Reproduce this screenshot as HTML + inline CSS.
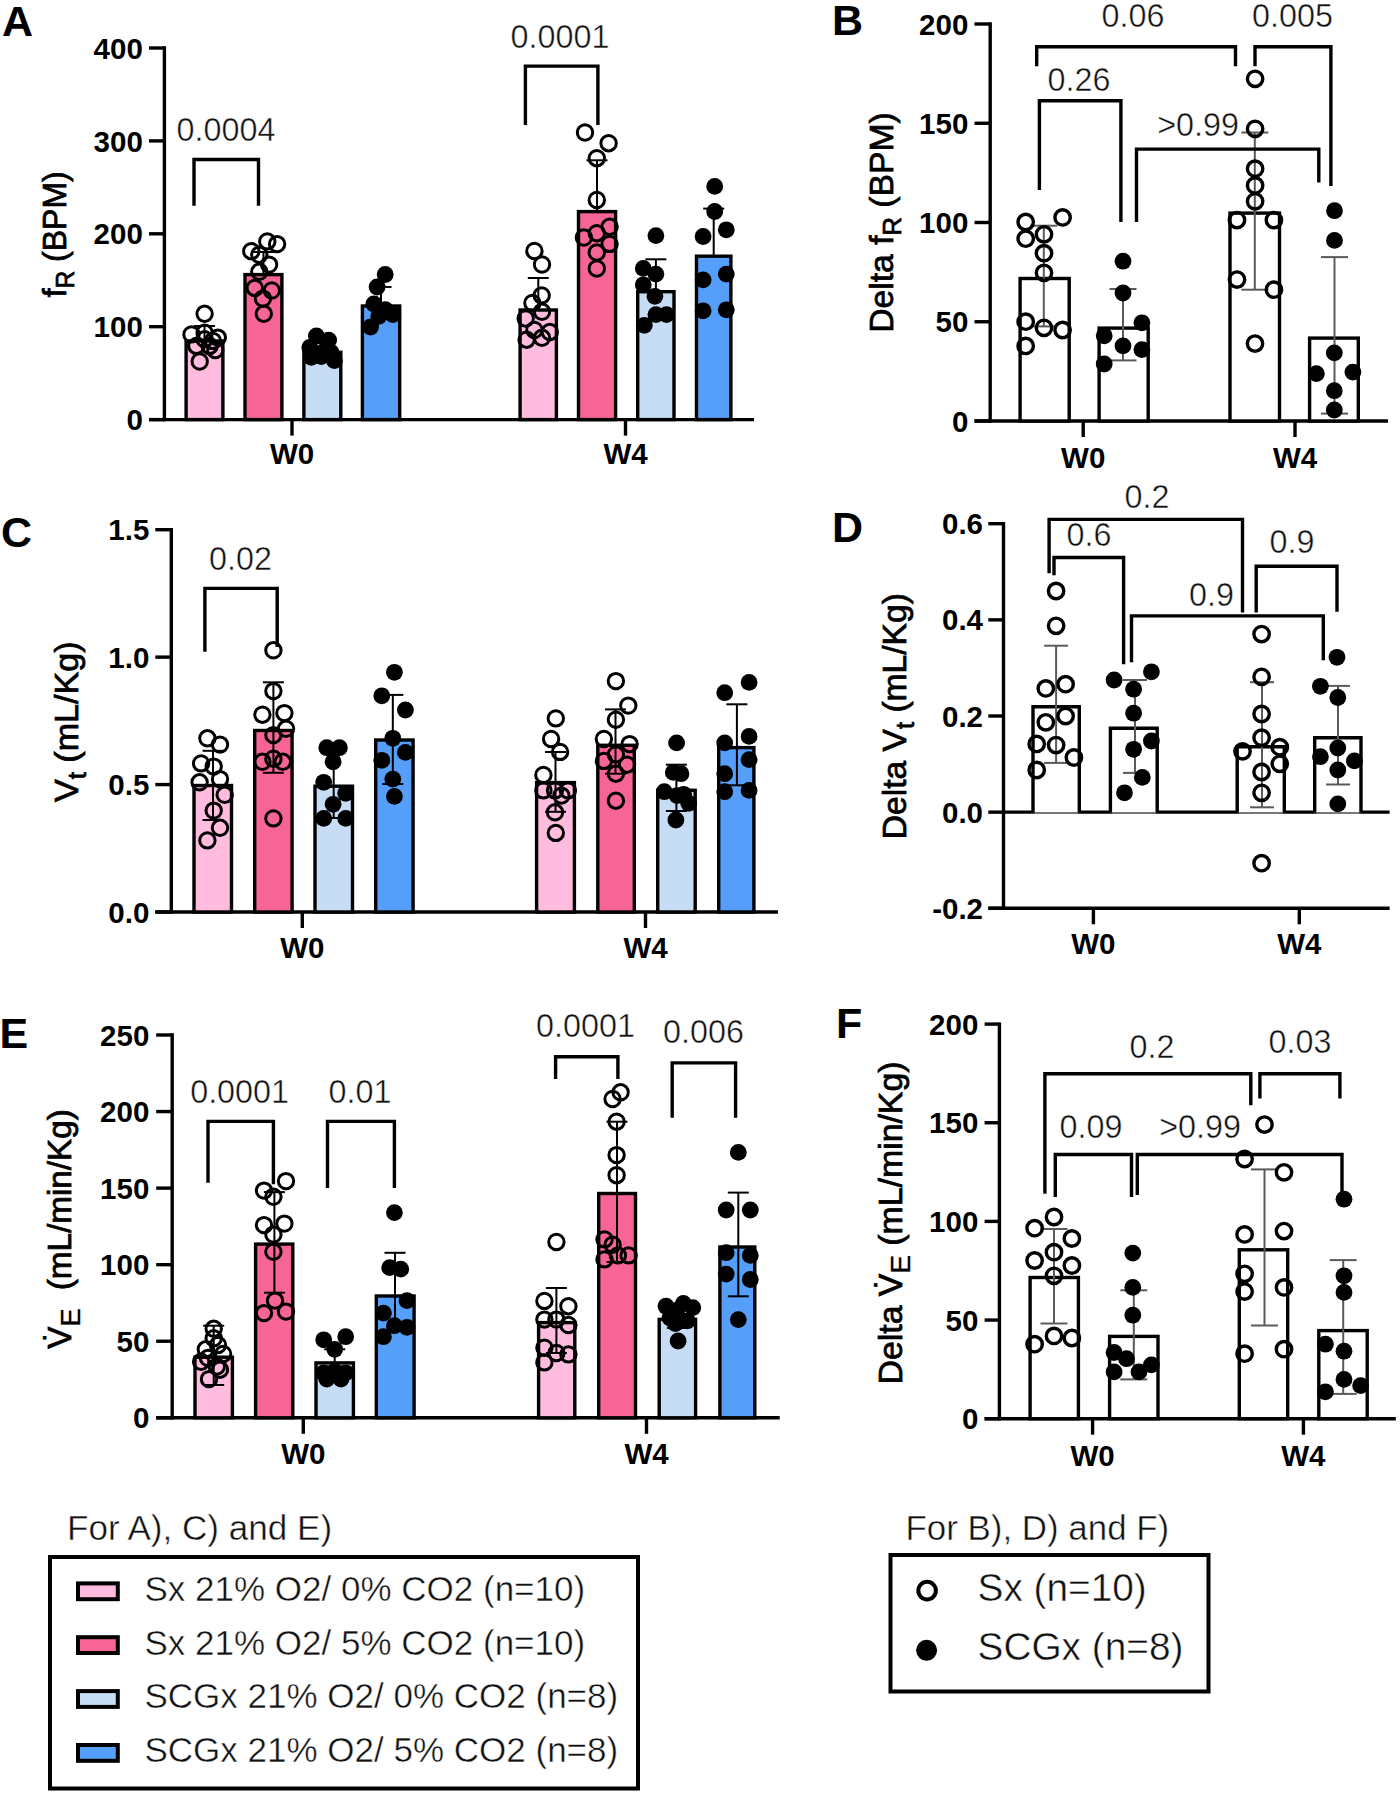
<!DOCTYPE html><html><head><meta charset="utf-8"><style>html,body{margin:0;padding:0;background:#fff;}svg{display:block;}</style></head><body>
<svg width="1400" height="1794" viewBox="0 0 1400 1794" font-family='"Liberation Sans", sans-serif'>
<rect width="1400" height="1794" fill="#fff"/>
<text x="2.00" y="35.50" font-size="43" font-weight="bold" text-anchor="start" fill="#000" >A</text>
<line x1="164.40" y1="46.30" x2="164.40" y2="421.30" stroke="#000" stroke-width="3.4" stroke-linecap="butt"/>
<line x1="149.00" y1="48.00" x2="164.40" y2="48.00" stroke="#000" stroke-width="3.4" stroke-linecap="butt"/>
<text x="142.80" y="58.60" font-size="29.5" font-weight="bold" text-anchor="end" fill="#000" >400</text>
<line x1="149.00" y1="140.90" x2="164.40" y2="140.90" stroke="#000" stroke-width="3.4" stroke-linecap="butt"/>
<text x="142.80" y="151.50" font-size="29.5" font-weight="bold" text-anchor="end" fill="#000" >300</text>
<line x1="149.00" y1="233.80" x2="164.40" y2="233.80" stroke="#000" stroke-width="3.4" stroke-linecap="butt"/>
<text x="142.80" y="244.40" font-size="29.5" font-weight="bold" text-anchor="end" fill="#000" >200</text>
<line x1="149.00" y1="326.70" x2="164.40" y2="326.70" stroke="#000" stroke-width="3.4" stroke-linecap="butt"/>
<text x="142.80" y="337.30" font-size="29.5" font-weight="bold" text-anchor="end" fill="#000" >100</text>
<line x1="149.00" y1="419.60" x2="164.40" y2="419.60" stroke="#000" stroke-width="3.4" stroke-linecap="butt"/>
<text x="142.80" y="430.20" font-size="29.5" font-weight="bold" text-anchor="end" fill="#000" >0</text>
<line x1="149.00" y1="419.60" x2="754.00" y2="419.60" stroke="#000" stroke-width="3.4" stroke-linecap="butt"/>
<line x1="292.00" y1="419.60" x2="292.00" y2="435.60" stroke="#000" stroke-width="3.4" stroke-linecap="butt"/>
<text x="292.00" y="463.60" font-size="29.5" font-weight="bold" text-anchor="middle" fill="#000" >W0</text>
<line x1="625.50" y1="419.60" x2="625.50" y2="435.60" stroke="#000" stroke-width="3.4" stroke-linecap="butt"/>
<text x="625.50" y="463.60" font-size="29.5" font-weight="bold" text-anchor="middle" fill="#000" >W4</text>
<rect x="186.10" y="341.00" width="36.80" height="78.60" fill="#FFBCDF" stroke="#000" stroke-width="3.4"/>
<rect x="245.00" y="274.60" width="36.90" height="145.00" fill="#F76597" stroke="#000" stroke-width="3.4"/>
<rect x="303.90" y="352.30" width="36.90" height="67.30" fill="#C7DDF6" stroke="#000" stroke-width="3.4"/>
<rect x="362.40" y="306.00" width="37.30" height="113.60" fill="#559FFA" stroke="#000" stroke-width="3.4"/>
<rect x="520.10" y="310.00" width="36.30" height="109.60" fill="#FFBCDF" stroke="#000" stroke-width="3.4"/>
<rect x="578.50" y="211.60" width="37.10" height="208.00" fill="#F76597" stroke="#000" stroke-width="3.4"/>
<rect x="637.70" y="291.70" width="36.30" height="127.90" fill="#C7DDF6" stroke="#000" stroke-width="3.4"/>
<rect x="696.50" y="256.20" width="34.40" height="163.40" fill="#559FFA" stroke="#000" stroke-width="3.4"/>
<circle cx="204.6" cy="313.8" r="7.7" fill="none" stroke="#000" stroke-width="3.0"/>
<circle cx="191.5" cy="334.4" r="7.7" fill="none" stroke="#000" stroke-width="3.0"/>
<circle cx="204.6" cy="332.7" r="7.7" fill="none" stroke="#000" stroke-width="3.0"/>
<circle cx="217.8" cy="337.6" r="7.7" fill="none" stroke="#000" stroke-width="3.0"/>
<circle cx="196.4" cy="345.9" r="7.7" fill="none" stroke="#000" stroke-width="3.0"/>
<circle cx="209.6" cy="345.9" r="7.7" fill="none" stroke="#000" stroke-width="3.0"/>
<circle cx="215.3" cy="350.0" r="7.7" fill="none" stroke="#000" stroke-width="3.0"/>
<circle cx="199.7" cy="361.5" r="7.7" fill="none" stroke="#000" stroke-width="3.0"/>
<circle cx="204.6" cy="339.3" r="7.7" fill="none" stroke="#000" stroke-width="3.0"/>
<circle cx="212.9" cy="340.9" r="7.7" fill="none" stroke="#000" stroke-width="3.0"/>
<circle cx="267.3" cy="241.4" r="7.7" fill="none" stroke="#000" stroke-width="3.0"/>
<circle cx="277.1" cy="244.1" r="7.7" fill="none" stroke="#000" stroke-width="3.0"/>
<circle cx="251.3" cy="251.2" r="7.7" fill="none" stroke="#000" stroke-width="3.0"/>
<circle cx="259.3" cy="254.8" r="7.7" fill="none" stroke="#000" stroke-width="3.0"/>
<circle cx="269.1" cy="264.6" r="7.7" fill="none" stroke="#000" stroke-width="3.0"/>
<circle cx="259.3" cy="271.8" r="7.7" fill="none" stroke="#000" stroke-width="3.0"/>
<circle cx="254.8" cy="287.9" r="7.7" fill="none" stroke="#000" stroke-width="3.0"/>
<circle cx="271.8" cy="290.5" r="7.7" fill="none" stroke="#000" stroke-width="3.0"/>
<circle cx="262.9" cy="298.6" r="7.7" fill="none" stroke="#000" stroke-width="3.0"/>
<circle cx="263.8" cy="313.8" r="7.7" fill="none" stroke="#000" stroke-width="3.0"/>
<circle cx="316.4" cy="336.0" r="8.4" fill="#000"/>
<circle cx="328.7" cy="340.1" r="8.4" fill="#000"/>
<circle cx="309.8" cy="347.5" r="8.4" fill="#000"/>
<circle cx="324.6" cy="350.8" r="8.4" fill="#000"/>
<circle cx="311.4" cy="357.4" r="8.4" fill="#000"/>
<circle cx="321.3" cy="356.5" r="8.4" fill="#000"/>
<circle cx="334.4" cy="360.6" r="8.4" fill="#000"/>
<circle cx="331.1" cy="352.4" r="8.4" fill="#000"/>
<circle cx="385.2" cy="274.5" r="8.4" fill="#000"/>
<circle cx="377.1" cy="287.0" r="8.4" fill="#000"/>
<circle cx="373.9" cy="304.0" r="8.4" fill="#000"/>
<circle cx="385.4" cy="309.7" r="8.4" fill="#000"/>
<circle cx="392.8" cy="314.6" r="8.4" fill="#000"/>
<circle cx="370.6" cy="327.0" r="8.4" fill="#000"/>
<circle cx="378.8" cy="316.3" r="8.4" fill="#000"/>
<circle cx="534.4" cy="251.0" r="7.7" fill="none" stroke="#000" stroke-width="3.0"/>
<circle cx="542.0" cy="264.5" r="7.7" fill="none" stroke="#000" stroke-width="3.0"/>
<circle cx="541.7" cy="295.4" r="7.7" fill="none" stroke="#000" stroke-width="3.0"/>
<circle cx="532.4" cy="303.0" r="7.7" fill="none" stroke="#000" stroke-width="3.0"/>
<circle cx="542.0" cy="311.8" r="7.7" fill="none" stroke="#000" stroke-width="3.0"/>
<circle cx="525.7" cy="318.5" r="7.7" fill="none" stroke="#000" stroke-width="3.0"/>
<circle cx="534.4" cy="330.0" r="7.7" fill="none" stroke="#000" stroke-width="3.0"/>
<circle cx="549.8" cy="332.0" r="7.7" fill="none" stroke="#000" stroke-width="3.0"/>
<circle cx="526.6" cy="339.7" r="7.7" fill="none" stroke="#000" stroke-width="3.0"/>
<circle cx="542.0" cy="337.8" r="7.7" fill="none" stroke="#000" stroke-width="3.0"/>
<circle cx="585.0" cy="132.5" r="7.7" fill="none" stroke="#000" stroke-width="3.0"/>
<circle cx="608.6" cy="143.2" r="7.7" fill="none" stroke="#000" stroke-width="3.0"/>
<circle cx="596.8" cy="158.2" r="7.7" fill="none" stroke="#000" stroke-width="3.0"/>
<circle cx="596.8" cy="200.0" r="7.7" fill="none" stroke="#000" stroke-width="3.0"/>
<circle cx="583.9" cy="237.5" r="7.7" fill="none" stroke="#000" stroke-width="3.0"/>
<circle cx="596.8" cy="233.2" r="7.7" fill="none" stroke="#000" stroke-width="3.0"/>
<circle cx="609.6" cy="226.8" r="7.7" fill="none" stroke="#000" stroke-width="3.0"/>
<circle cx="609.6" cy="243.9" r="7.7" fill="none" stroke="#000" stroke-width="3.0"/>
<circle cx="596.8" cy="252.5" r="7.7" fill="none" stroke="#000" stroke-width="3.0"/>
<circle cx="596.8" cy="268.5" r="7.7" fill="none" stroke="#000" stroke-width="3.0"/>
<circle cx="655.9" cy="235.6" r="8.4" fill="#000"/>
<circle cx="643.3" cy="268.4" r="8.4" fill="#000"/>
<circle cx="655.9" cy="274.1" r="8.4" fill="#000"/>
<circle cx="643.3" cy="284.8" r="8.4" fill="#000"/>
<circle cx="654.9" cy="296.3" r="8.4" fill="#000"/>
<circle cx="655.9" cy="314.6" r="8.4" fill="#000"/>
<circle cx="666.5" cy="314.6" r="8.4" fill="#000"/>
<circle cx="644.3" cy="325.3" r="8.4" fill="#000"/>
<circle cx="714.7" cy="186.4" r="8.4" fill="#000"/>
<circle cx="714.7" cy="211.5" r="8.4" fill="#000"/>
<circle cx="703.1" cy="236.5" r="8.4" fill="#000"/>
<circle cx="726.3" cy="229.8" r="8.4" fill="#000"/>
<circle cx="703.1" cy="279.9" r="8.4" fill="#000"/>
<circle cx="726.3" cy="274.1" r="8.4" fill="#000"/>
<circle cx="703.1" cy="310.8" r="8.4" fill="#000"/>
<circle cx="726.3" cy="309.8" r="8.4" fill="#000"/>
<line x1="204.50" y1="326.00" x2="204.50" y2="340.00" stroke="#000" stroke-width="2.0" stroke-linecap="butt"/>
<line x1="194.00" y1="326.00" x2="215.00" y2="326.00" stroke="#000" stroke-width="2.0" stroke-linecap="butt"/>
<line x1="263.50" y1="252.00" x2="263.50" y2="274.00" stroke="#000" stroke-width="2.0" stroke-linecap="butt"/>
<line x1="253.00" y1="252.00" x2="274.00" y2="252.00" stroke="#000" stroke-width="2.0" stroke-linecap="butt"/>
<line x1="322.40" y1="343.00" x2="322.40" y2="351.00" stroke="#000" stroke-width="2.0" stroke-linecap="butt"/>
<line x1="311.90" y1="343.00" x2="332.90" y2="343.00" stroke="#000" stroke-width="2.0" stroke-linecap="butt"/>
<line x1="381.00" y1="287.00" x2="381.00" y2="305.00" stroke="#000" stroke-width="2.0" stroke-linecap="butt"/>
<line x1="370.50" y1="287.00" x2="391.50" y2="287.00" stroke="#000" stroke-width="2.0" stroke-linecap="butt"/>
<line x1="538.30" y1="278.00" x2="538.30" y2="309.00" stroke="#000" stroke-width="2.0" stroke-linecap="butt"/>
<line x1="527.80" y1="278.00" x2="548.80" y2="278.00" stroke="#000" stroke-width="2.0" stroke-linecap="butt"/>
<line x1="597.00" y1="160.30" x2="597.00" y2="211.00" stroke="#000" stroke-width="2.0" stroke-linecap="butt"/>
<line x1="586.50" y1="160.30" x2="607.50" y2="160.30" stroke="#000" stroke-width="2.0" stroke-linecap="butt"/>
<line x1="655.90" y1="259.30" x2="655.90" y2="291.00" stroke="#000" stroke-width="2.0" stroke-linecap="butt"/>
<line x1="645.40" y1="259.30" x2="666.40" y2="259.30" stroke="#000" stroke-width="2.0" stroke-linecap="butt"/>
<line x1="713.70" y1="208.60" x2="713.70" y2="256.00" stroke="#000" stroke-width="2.0" stroke-linecap="butt"/>
<line x1="703.20" y1="208.60" x2="724.20" y2="208.60" stroke="#000" stroke-width="2.0" stroke-linecap="butt"/>
<path d="M194.00,205.70 V159.50 H258.50 V205.70" fill="none" stroke="#000" stroke-width="3.4" stroke-linejoin="miter"/>
<text x="226.00" y="141.20" font-size="32.3" font-weight="normal" text-anchor="middle" fill="#111111" stroke="#fff" stroke-width="0.45">0.0004</text>
<path d="M525.40,125.00 V66.10 H597.90 V125.00" fill="none" stroke="#000" stroke-width="3.4" stroke-linejoin="miter"/>
<text x="560.00" y="47.90" font-size="32.3" font-weight="normal" text-anchor="middle" fill="#111111" stroke="#fff" stroke-width="0.45">0.0001</text>
<text transform="translate(66.40,234.25) rotate(-90)" font-size="33" font-weight="normal" text-anchor="middle" fill="#000" stroke="#000" stroke-width="0.75" textLength="126" lengthAdjust="spacingAndGlyphs">f<tspan font-size="25" dy="8">R</tspan><tspan dy="-8"> (BPM)</tspan></text>
<text x="832.00" y="34.50" font-size="43" font-weight="bold" text-anchor="start" fill="#000" >B</text>
<line x1="990.20" y1="22.30" x2="990.20" y2="422.70" stroke="#000" stroke-width="3.4" stroke-linecap="butt"/>
<line x1="974.50" y1="24.00" x2="990.20" y2="24.00" stroke="#000" stroke-width="3.4" stroke-linecap="butt"/>
<text x="968.30" y="34.60" font-size="29.5" font-weight="bold" text-anchor="end" fill="#000" >200</text>
<line x1="974.50" y1="123.25" x2="990.20" y2="123.25" stroke="#000" stroke-width="3.4" stroke-linecap="butt"/>
<text x="968.30" y="133.85" font-size="29.5" font-weight="bold" text-anchor="end" fill="#000" >150</text>
<line x1="974.50" y1="222.50" x2="990.20" y2="222.50" stroke="#000" stroke-width="3.4" stroke-linecap="butt"/>
<text x="968.30" y="233.10" font-size="29.5" font-weight="bold" text-anchor="end" fill="#000" >100</text>
<line x1="974.50" y1="321.75" x2="990.20" y2="321.75" stroke="#000" stroke-width="3.4" stroke-linecap="butt"/>
<text x="968.30" y="332.35" font-size="29.5" font-weight="bold" text-anchor="end" fill="#000" >50</text>
<line x1="974.50" y1="421.00" x2="990.20" y2="421.00" stroke="#000" stroke-width="3.4" stroke-linecap="butt"/>
<text x="968.30" y="431.60" font-size="29.5" font-weight="bold" text-anchor="end" fill="#000" >0</text>
<line x1="974.50" y1="421.00" x2="1388.00" y2="421.00" stroke="#000" stroke-width="3.4" stroke-linecap="butt"/>
<line x1="1083.20" y1="421.00" x2="1083.20" y2="437.00" stroke="#000" stroke-width="3.4" stroke-linecap="butt"/>
<text x="1083.20" y="468.30" font-size="29.5" font-weight="bold" text-anchor="middle" fill="#000" >W0</text>
<line x1="1295.00" y1="421.00" x2="1295.00" y2="437.00" stroke="#000" stroke-width="3.4" stroke-linecap="butt"/>
<text x="1295.00" y="468.30" font-size="29.5" font-weight="bold" text-anchor="middle" fill="#000" >W4</text>
<rect x="1020.10" y="278.50" width="49.10" height="142.50" fill="#fff" stroke="#000" stroke-width="3.4"/>
<rect x="1099.10" y="328.10" width="49.10" height="92.90" fill="#fff" stroke="#000" stroke-width="3.4"/>
<rect x="1230.00" y="213.10" width="49.50" height="207.90" fill="#fff" stroke="#000" stroke-width="3.4"/>
<rect x="1309.60" y="338.10" width="48.70" height="82.90" fill="#fff" stroke="#000" stroke-width="3.4"/>
<line x1="1043.80" y1="225.70" x2="1043.80" y2="326.40" stroke="#5a5a5a" stroke-width="2.0" stroke-linecap="butt"/>
<line x1="1030.30" y1="225.70" x2="1057.30" y2="225.70" stroke="#5a5a5a" stroke-width="2.0" stroke-linecap="butt"/>
<line x1="1030.30" y1="326.40" x2="1057.30" y2="326.40" stroke="#5a5a5a" stroke-width="2.0" stroke-linecap="butt"/>
<line x1="1123.00" y1="289.00" x2="1123.00" y2="360.40" stroke="#5a5a5a" stroke-width="2.0" stroke-linecap="butt"/>
<line x1="1109.50" y1="289.00" x2="1136.50" y2="289.00" stroke="#5a5a5a" stroke-width="2.0" stroke-linecap="butt"/>
<line x1="1109.50" y1="360.40" x2="1136.50" y2="360.40" stroke="#5a5a5a" stroke-width="2.0" stroke-linecap="butt"/>
<line x1="1254.80" y1="132.50" x2="1254.80" y2="289.70" stroke="#5a5a5a" stroke-width="2.0" stroke-linecap="butt"/>
<line x1="1241.30" y1="132.50" x2="1268.30" y2="132.50" stroke="#5a5a5a" stroke-width="2.0" stroke-linecap="butt"/>
<line x1="1241.30" y1="289.70" x2="1268.30" y2="289.70" stroke="#5a5a5a" stroke-width="2.0" stroke-linecap="butt"/>
<line x1="1334.50" y1="257.10" x2="1334.50" y2="413.60" stroke="#5a5a5a" stroke-width="2.0" stroke-linecap="butt"/>
<line x1="1321.00" y1="257.10" x2="1348.00" y2="257.10" stroke="#5a5a5a" stroke-width="2.0" stroke-linecap="butt"/>
<line x1="1321.00" y1="413.60" x2="1348.00" y2="413.60" stroke="#5a5a5a" stroke-width="2.0" stroke-linecap="butt"/>
<circle cx="1025.7" cy="222.0" r="7.7" fill="none" stroke="#000" stroke-width="3.4"/>
<circle cx="1062.6" cy="217.4" r="7.7" fill="none" stroke="#000" stroke-width="3.4"/>
<circle cx="1025.7" cy="238.7" r="7.7" fill="none" stroke="#000" stroke-width="3.4"/>
<circle cx="1044.0" cy="234.3" r="7.7" fill="none" stroke="#000" stroke-width="3.4"/>
<circle cx="1044.0" cy="253.2" r="7.7" fill="none" stroke="#000" stroke-width="3.4"/>
<circle cx="1044.0" cy="272.8" r="7.7" fill="none" stroke="#000" stroke-width="3.4"/>
<circle cx="1025.7" cy="321.7" r="7.7" fill="none" stroke="#000" stroke-width="3.4"/>
<circle cx="1044.0" cy="327.8" r="7.7" fill="none" stroke="#000" stroke-width="3.4"/>
<circle cx="1062.6" cy="330.0" r="7.7" fill="none" stroke="#000" stroke-width="3.4"/>
<circle cx="1025.7" cy="345.9" r="7.7" fill="none" stroke="#000" stroke-width="3.4"/>
<circle cx="1123.0" cy="261.2" r="8.4" fill="#000"/>
<circle cx="1123.0" cy="293.0" r="8.4" fill="#000"/>
<circle cx="1141.9" cy="322.8" r="8.4" fill="#000"/>
<circle cx="1104.2" cy="335.8" r="8.4" fill="#000"/>
<circle cx="1123.0" cy="345.9" r="8.4" fill="#000"/>
<circle cx="1141.9" cy="349.6" r="8.4" fill="#000"/>
<circle cx="1104.2" cy="364.0" r="8.4" fill="#000"/>
<circle cx="1255.1" cy="78.8" r="7.7" fill="none" stroke="#000" stroke-width="3.4"/>
<circle cx="1255.1" cy="128.8" r="7.7" fill="none" stroke="#000" stroke-width="3.4"/>
<circle cx="1255.1" cy="168.7" r="7.7" fill="none" stroke="#000" stroke-width="3.4"/>
<circle cx="1255.1" cy="185.4" r="7.7" fill="none" stroke="#000" stroke-width="3.4"/>
<circle cx="1255.1" cy="201.3" r="7.7" fill="none" stroke="#000" stroke-width="3.4"/>
<circle cx="1237.0" cy="220.1" r="7.7" fill="none" stroke="#000" stroke-width="3.4"/>
<circle cx="1273.9" cy="220.1" r="7.7" fill="none" stroke="#000" stroke-width="3.4"/>
<circle cx="1237.0" cy="279.6" r="7.7" fill="none" stroke="#000" stroke-width="3.4"/>
<circle cx="1273.9" cy="289.7" r="7.7" fill="none" stroke="#000" stroke-width="3.4"/>
<circle cx="1255.0" cy="343.6" r="7.7" fill="none" stroke="#000" stroke-width="3.4"/>
<circle cx="1334.5" cy="210.7" r="8.4" fill="#000"/>
<circle cx="1334.5" cy="240.4" r="8.4" fill="#000"/>
<circle cx="1334.3" cy="352.9" r="8.4" fill="#000"/>
<circle cx="1316.4" cy="373.6" r="8.4" fill="#000"/>
<circle cx="1352.9" cy="372.1" r="8.4" fill="#000"/>
<circle cx="1334.3" cy="390.7" r="8.4" fill="#000"/>
<circle cx="1334.3" cy="410.0" r="8.4" fill="#000"/>
<path d="M1036.70,66.30 V46.80 H1235.50 V66.30" fill="none" stroke="#000" stroke-width="3.4" stroke-linejoin="miter"/>
<path d="M1255.00,66.30 V46.80 H1330.90 V186.10" fill="none" stroke="#000" stroke-width="3.4" stroke-linejoin="miter"/>
<path d="M1039.40,190.10 V100.70 H1120.90 V222.00" fill="none" stroke="#000" stroke-width="3.4" stroke-linejoin="miter"/>
<path d="M1136.50,222.00 V149.10 H1318.80 V182.50" fill="none" stroke="#000" stroke-width="3.4" stroke-linejoin="miter"/>
<text x="1133.00" y="26.90" font-size="32.3" font-weight="normal" text-anchor="middle" fill="#111111" stroke="#fff" stroke-width="0.45">0.06</text>
<text x="1292.50" y="26.90" font-size="32.3" font-weight="normal" text-anchor="middle" fill="#111111" stroke="#fff" stroke-width="0.45">0.005</text>
<text x="1079.00" y="91.10" font-size="32.3" font-weight="normal" text-anchor="middle" fill="#111111" stroke="#fff" stroke-width="0.45">0.26</text>
<text x="1198.00" y="136.40" font-size="32.3" font-weight="normal" text-anchor="middle" fill="#111111" stroke="#fff" stroke-width="0.45">&gt;0.99</text>
<text transform="translate(892.70,222.55) rotate(-90)" font-size="33" font-weight="normal" text-anchor="middle" fill="#000" stroke="#000" stroke-width="0.75" textLength="220.5" lengthAdjust="spacingAndGlyphs">Delta f<tspan font-size="25" dy="8">R</tspan><tspan dy="-8"> (BPM)</tspan></text>
<text x="1.00" y="546.60" font-size="43" font-weight="bold" text-anchor="start" fill="#000" >C</text>
<line x1="171.30" y1="528.00" x2="171.30" y2="913.70" stroke="#000" stroke-width="3.4" stroke-linecap="butt"/>
<line x1="155.30" y1="529.70" x2="171.30" y2="529.70" stroke="#000" stroke-width="3.4" stroke-linecap="butt"/>
<text x="149.30" y="540.30" font-size="29.5" font-weight="bold" text-anchor="end" fill="#000" >1.5</text>
<line x1="155.30" y1="657.13" x2="171.30" y2="657.13" stroke="#000" stroke-width="3.4" stroke-linecap="butt"/>
<text x="149.30" y="667.73" font-size="29.5" font-weight="bold" text-anchor="end" fill="#000" >1.0</text>
<line x1="155.30" y1="784.57" x2="171.30" y2="784.57" stroke="#000" stroke-width="3.4" stroke-linecap="butt"/>
<text x="149.30" y="795.17" font-size="29.5" font-weight="bold" text-anchor="end" fill="#000" >0.5</text>
<line x1="155.30" y1="912.00" x2="171.30" y2="912.00" stroke="#000" stroke-width="3.4" stroke-linecap="butt"/>
<text x="149.30" y="922.60" font-size="29.5" font-weight="bold" text-anchor="end" fill="#000" >0.0</text>
<line x1="155.30" y1="912.00" x2="777.90" y2="912.00" stroke="#000" stroke-width="3.4" stroke-linecap="butt"/>
<line x1="302.30" y1="912.00" x2="302.30" y2="928.00" stroke="#000" stroke-width="3.4" stroke-linecap="butt"/>
<text x="302.30" y="958.30" font-size="29.5" font-weight="bold" text-anchor="middle" fill="#000" >W0</text>
<line x1="645.50" y1="912.00" x2="645.50" y2="928.00" stroke="#000" stroke-width="3.4" stroke-linecap="butt"/>
<text x="645.50" y="958.30" font-size="29.5" font-weight="bold" text-anchor="middle" fill="#000" >W4</text>
<rect x="194.00" y="785.50" width="37.50" height="126.50" fill="#FFBCDF" stroke="#000" stroke-width="3.4"/>
<rect x="254.70" y="730.50" width="37.40" height="181.50" fill="#F76597" stroke="#000" stroke-width="3.4"/>
<rect x="315.00" y="786.20" width="37.50" height="125.80" fill="#C7DDF6" stroke="#000" stroke-width="3.4"/>
<rect x="375.70" y="740.00" width="37.40" height="172.00" fill="#559FFA" stroke="#000" stroke-width="3.4"/>
<rect x="536.60" y="782.60" width="37.80" height="129.40" fill="#FFBCDF" stroke="#000" stroke-width="3.4"/>
<rect x="597.80" y="745.30" width="36.50" height="166.70" fill="#F76597" stroke="#000" stroke-width="3.4"/>
<rect x="657.70" y="790.30" width="37.50" height="121.70" fill="#C7DDF6" stroke="#000" stroke-width="3.4"/>
<rect x="718.70" y="747.60" width="35.20" height="164.40" fill="#559FFA" stroke="#000" stroke-width="3.4"/>
<circle cx="207.4" cy="738.3" r="7.7" fill="none" stroke="#000" stroke-width="3.0"/>
<circle cx="220.0" cy="744.6" r="7.7" fill="none" stroke="#000" stroke-width="3.0"/>
<circle cx="201.1" cy="763.4" r="7.7" fill="none" stroke="#000" stroke-width="3.0"/>
<circle cx="213.7" cy="766.6" r="7.7" fill="none" stroke="#000" stroke-width="3.0"/>
<circle cx="220.0" cy="779.1" r="7.7" fill="none" stroke="#000" stroke-width="3.0"/>
<circle cx="199.6" cy="782.3" r="7.7" fill="none" stroke="#000" stroke-width="3.0"/>
<circle cx="224.7" cy="794.8" r="7.7" fill="none" stroke="#000" stroke-width="3.0"/>
<circle cx="213.7" cy="810.6" r="7.7" fill="none" stroke="#000" stroke-width="3.0"/>
<circle cx="220.0" cy="827.8" r="7.7" fill="none" stroke="#000" stroke-width="3.0"/>
<circle cx="207.4" cy="840.4" r="7.7" fill="none" stroke="#000" stroke-width="3.0"/>
<circle cx="273.4" cy="650.3" r="7.7" fill="none" stroke="#000" stroke-width="3.0"/>
<circle cx="273.4" cy="691.1" r="7.7" fill="none" stroke="#000" stroke-width="3.0"/>
<circle cx="262.4" cy="714.7" r="7.7" fill="none" stroke="#000" stroke-width="3.0"/>
<circle cx="284.4" cy="713.1" r="7.7" fill="none" stroke="#000" stroke-width="3.0"/>
<circle cx="286.0" cy="728.8" r="7.7" fill="none" stroke="#000" stroke-width="3.0"/>
<circle cx="273.4" cy="735.1" r="7.7" fill="none" stroke="#000" stroke-width="3.0"/>
<circle cx="262.4" cy="761.8" r="7.7" fill="none" stroke="#000" stroke-width="3.0"/>
<circle cx="282.8" cy="761.8" r="7.7" fill="none" stroke="#000" stroke-width="3.0"/>
<circle cx="273.4" cy="758.7" r="7.7" fill="none" stroke="#000" stroke-width="3.0"/>
<circle cx="273.4" cy="818.4" r="7.7" fill="none" stroke="#000" stroke-width="3.0"/>
<circle cx="326.8" cy="747.7" r="8.4" fill="#000"/>
<circle cx="339.4" cy="747.7" r="8.4" fill="#000"/>
<circle cx="333.1" cy="761.8" r="8.4" fill="#000"/>
<circle cx="323.7" cy="782.3" r="8.4" fill="#000"/>
<circle cx="345.7" cy="793.3" r="8.4" fill="#000"/>
<circle cx="333.1" cy="804.3" r="8.4" fill="#000"/>
<circle cx="323.7" cy="818.4" r="8.4" fill="#000"/>
<circle cx="345.7" cy="818.4" r="8.4" fill="#000"/>
<circle cx="394.4" cy="672.3" r="8.4" fill="#000"/>
<circle cx="381.8" cy="695.8" r="8.4" fill="#000"/>
<circle cx="405.4" cy="710.0" r="8.4" fill="#000"/>
<circle cx="392.8" cy="738.3" r="8.4" fill="#000"/>
<circle cx="381.8" cy="760.3" r="8.4" fill="#000"/>
<circle cx="405.4" cy="752.4" r="8.4" fill="#000"/>
<circle cx="392.8" cy="779.1" r="8.4" fill="#000"/>
<circle cx="394.4" cy="796.4" r="8.4" fill="#000"/>
<circle cx="555.8" cy="718.4" r="7.7" fill="none" stroke="#000" stroke-width="3.0"/>
<circle cx="551.1" cy="739.0" r="7.7" fill="none" stroke="#000" stroke-width="3.0"/>
<circle cx="560.1" cy="751.9" r="7.7" fill="none" stroke="#000" stroke-width="3.0"/>
<circle cx="543.4" cy="775.0" r="7.7" fill="none" stroke="#000" stroke-width="3.0"/>
<circle cx="543.4" cy="790.4" r="7.7" fill="none" stroke="#000" stroke-width="3.0"/>
<circle cx="555.0" cy="790.4" r="7.7" fill="none" stroke="#000" stroke-width="3.0"/>
<circle cx="567.9" cy="790.4" r="7.7" fill="none" stroke="#000" stroke-width="3.0"/>
<circle cx="561.4" cy="795.6" r="7.7" fill="none" stroke="#000" stroke-width="3.0"/>
<circle cx="555.0" cy="812.3" r="7.7" fill="none" stroke="#000" stroke-width="3.0"/>
<circle cx="555.8" cy="832.9" r="7.7" fill="none" stroke="#000" stroke-width="3.0"/>
<circle cx="615.9" cy="681.1" r="7.7" fill="none" stroke="#000" stroke-width="3.0"/>
<circle cx="628.3" cy="705.6" r="7.7" fill="none" stroke="#000" stroke-width="3.0"/>
<circle cx="615.9" cy="719.7" r="7.7" fill="none" stroke="#000" stroke-width="3.0"/>
<circle cx="603.9" cy="739.0" r="7.7" fill="none" stroke="#000" stroke-width="3.0"/>
<circle cx="629.6" cy="744.1" r="7.7" fill="none" stroke="#000" stroke-width="3.0"/>
<circle cx="615.9" cy="754.4" r="7.7" fill="none" stroke="#000" stroke-width="3.0"/>
<circle cx="603.9" cy="760.9" r="7.7" fill="none" stroke="#000" stroke-width="3.0"/>
<circle cx="627.0" cy="764.7" r="7.7" fill="none" stroke="#000" stroke-width="3.0"/>
<circle cx="615.9" cy="773.7" r="7.7" fill="none" stroke="#000" stroke-width="3.0"/>
<circle cx="615.9" cy="800.7" r="7.7" fill="none" stroke="#000" stroke-width="3.0"/>
<circle cx="676.6" cy="742.9" r="8.4" fill="#000"/>
<circle cx="673.3" cy="772.4" r="8.4" fill="#000"/>
<circle cx="681.0" cy="773.7" r="8.4" fill="#000"/>
<circle cx="664.3" cy="791.7" r="8.4" fill="#000"/>
<circle cx="677.1" cy="795.6" r="8.4" fill="#000"/>
<circle cx="688.7" cy="803.3" r="8.4" fill="#000"/>
<circle cx="675.9" cy="820.0" r="8.4" fill="#000"/>
<circle cx="683.6" cy="794.3" r="8.4" fill="#000"/>
<circle cx="724.7" cy="692.7" r="8.4" fill="#000"/>
<circle cx="749.1" cy="682.4" r="8.4" fill="#000"/>
<circle cx="724.7" cy="742.9" r="8.4" fill="#000"/>
<circle cx="749.1" cy="736.4" r="8.4" fill="#000"/>
<circle cx="749.1" cy="759.6" r="8.4" fill="#000"/>
<circle cx="724.7" cy="773.7" r="8.4" fill="#000"/>
<circle cx="724.7" cy="791.7" r="8.4" fill="#000"/>
<circle cx="749.1" cy="790.4" r="8.4" fill="#000"/>
<line x1="213.00" y1="750.80" x2="213.00" y2="820.00" stroke="#000" stroke-width="2.0" stroke-linecap="butt"/>
<line x1="202.50" y1="750.80" x2="223.50" y2="750.80" stroke="#000" stroke-width="2.0" stroke-linecap="butt"/>
<line x1="202.50" y1="820.00" x2="223.50" y2="820.00" stroke="#000" stroke-width="2.0" stroke-linecap="butt"/>
<line x1="273.40" y1="682.30" x2="273.40" y2="772.80" stroke="#000" stroke-width="2.0" stroke-linecap="butt"/>
<line x1="262.90" y1="682.30" x2="283.90" y2="682.30" stroke="#000" stroke-width="2.0" stroke-linecap="butt"/>
<line x1="262.90" y1="772.80" x2="283.90" y2="772.80" stroke="#000" stroke-width="2.0" stroke-linecap="butt"/>
<line x1="333.70" y1="752.00" x2="333.70" y2="818.00" stroke="#000" stroke-width="2.0" stroke-linecap="butt"/>
<line x1="323.20" y1="752.00" x2="344.20" y2="752.00" stroke="#000" stroke-width="2.0" stroke-linecap="butt"/>
<line x1="323.20" y1="818.00" x2="344.20" y2="818.00" stroke="#000" stroke-width="2.0" stroke-linecap="butt"/>
<line x1="392.80" y1="694.90" x2="392.80" y2="784.00" stroke="#000" stroke-width="2.0" stroke-linecap="butt"/>
<line x1="382.30" y1="694.90" x2="403.30" y2="694.90" stroke="#000" stroke-width="2.0" stroke-linecap="butt"/>
<line x1="382.30" y1="784.00" x2="403.30" y2="784.00" stroke="#000" stroke-width="2.0" stroke-linecap="butt"/>
<line x1="555.50" y1="752.00" x2="555.50" y2="811.80" stroke="#000" stroke-width="2.0" stroke-linecap="butt"/>
<line x1="545.00" y1="752.00" x2="566.00" y2="752.00" stroke="#000" stroke-width="2.0" stroke-linecap="butt"/>
<line x1="545.00" y1="811.80" x2="566.00" y2="811.80" stroke="#000" stroke-width="2.0" stroke-linecap="butt"/>
<line x1="615.50" y1="709.40" x2="615.50" y2="773.70" stroke="#000" stroke-width="2.0" stroke-linecap="butt"/>
<line x1="605.00" y1="709.40" x2="626.00" y2="709.40" stroke="#000" stroke-width="2.0" stroke-linecap="butt"/>
<line x1="605.00" y1="773.70" x2="626.00" y2="773.70" stroke="#000" stroke-width="2.0" stroke-linecap="butt"/>
<line x1="676.40" y1="764.70" x2="676.40" y2="811.00" stroke="#000" stroke-width="2.0" stroke-linecap="butt"/>
<line x1="665.90" y1="764.70" x2="686.90" y2="764.70" stroke="#000" stroke-width="2.0" stroke-linecap="butt"/>
<line x1="665.90" y1="811.00" x2="686.90" y2="811.00" stroke="#000" stroke-width="2.0" stroke-linecap="butt"/>
<line x1="736.90" y1="704.30" x2="736.90" y2="785.30" stroke="#000" stroke-width="2.0" stroke-linecap="butt"/>
<line x1="726.40" y1="704.30" x2="747.40" y2="704.30" stroke="#000" stroke-width="2.0" stroke-linecap="butt"/>
<line x1="726.40" y1="785.30" x2="747.40" y2="785.30" stroke="#000" stroke-width="2.0" stroke-linecap="butt"/>
<path d="M204.90,651.80 V588.40 H277.20 V647.10" fill="none" stroke="#000" stroke-width="3.4" stroke-linejoin="miter"/>
<text x="240.50" y="570.10" font-size="32.3" font-weight="normal" text-anchor="middle" fill="#111111" stroke="#fff" stroke-width="0.45">0.02</text>
<text transform="translate(78.40,721.75) rotate(-90)" font-size="33" font-weight="normal" text-anchor="middle" fill="#000" stroke="#000" stroke-width="0.75" textLength="160.5" lengthAdjust="spacingAndGlyphs">V<tspan font-size="25" dy="8">t</tspan><tspan dy="-8"> (mL/Kg)</tspan></text>
<text x="832.00" y="542.10" font-size="43" font-weight="bold" text-anchor="start" fill="#000" >D</text>
<line x1="1003.50" y1="522.00" x2="1003.50" y2="910.00" stroke="#000" stroke-width="3.4" stroke-linecap="butt"/>
<line x1="988.30" y1="523.70" x2="1003.50" y2="523.70" stroke="#000" stroke-width="3.4" stroke-linecap="butt"/>
<text x="983.00" y="534.30" font-size="29.5" font-weight="bold" text-anchor="end" fill="#000" >0.6</text>
<line x1="988.30" y1="619.85" x2="1003.50" y2="619.85" stroke="#000" stroke-width="3.4" stroke-linecap="butt"/>
<text x="983.00" y="630.45" font-size="29.5" font-weight="bold" text-anchor="end" fill="#000" >0.4</text>
<line x1="988.30" y1="716.00" x2="1003.50" y2="716.00" stroke="#000" stroke-width="3.4" stroke-linecap="butt"/>
<text x="983.00" y="726.60" font-size="29.5" font-weight="bold" text-anchor="end" fill="#000" >0.2</text>
<line x1="988.30" y1="812.15" x2="1003.50" y2="812.15" stroke="#000" stroke-width="3.4" stroke-linecap="butt"/>
<text x="983.00" y="822.75" font-size="29.5" font-weight="bold" text-anchor="end" fill="#000" >0.0</text>
<line x1="988.30" y1="908.30" x2="1003.50" y2="908.30" stroke="#000" stroke-width="3.4" stroke-linecap="butt"/>
<text x="983.00" y="918.90" font-size="29.5" font-weight="bold" text-anchor="end" fill="#000" >-0.2</text>
<line x1="988.30" y1="908.30" x2="1389.60" y2="908.30" stroke="#000" stroke-width="3.4" stroke-linecap="butt"/>
<line x1="1093.40" y1="908.30" x2="1093.40" y2="924.30" stroke="#000" stroke-width="3.4" stroke-linecap="butt"/>
<text x="1093.40" y="954.30" font-size="29.5" font-weight="bold" text-anchor="middle" fill="#000" >W0</text>
<line x1="1299.30" y1="908.30" x2="1299.30" y2="924.30" stroke="#000" stroke-width="3.4" stroke-linecap="butt"/>
<text x="1299.30" y="954.30" font-size="29.5" font-weight="bold" text-anchor="middle" fill="#000" >W4</text>
<line x1="1003.50" y1="812.15" x2="1389.60" y2="812.15" stroke="#000" stroke-width="3.2" stroke-linecap="butt"/>
<path d="M1033.00,812.15 V706.70 H1079.30 V812.15" fill="#fff" stroke="#000" stroke-width="3.4"/>
<line x1="1034.70" y1="813.05" x2="1077.60" y2="813.05" stroke="#8a8a8a" stroke-width="1.5" stroke-linecap="butt"/>
<path d="M1110.40,812.15 V728.20 H1157.20 V812.15" fill="#fff" stroke="#000" stroke-width="3.4"/>
<line x1="1112.10" y1="813.05" x2="1155.50" y2="813.05" stroke="#8a8a8a" stroke-width="1.5" stroke-linecap="butt"/>
<path d="M1237.20,812.15 V746.80 H1284.30 V812.15" fill="#fff" stroke="#000" stroke-width="3.4"/>
<line x1="1238.90" y1="813.05" x2="1282.60" y2="813.05" stroke="#8a8a8a" stroke-width="1.5" stroke-linecap="butt"/>
<path d="M1314.70,812.15 V737.70 H1361.00 V812.15" fill="#fff" stroke="#000" stroke-width="3.4"/>
<line x1="1316.40" y1="813.05" x2="1359.30" y2="813.05" stroke="#8a8a8a" stroke-width="1.5" stroke-linecap="butt"/>
<line x1="1056.10" y1="645.70" x2="1056.10" y2="762.90" stroke="#5a5a5a" stroke-width="2.0" stroke-linecap="butt"/>
<line x1="1044.10" y1="645.70" x2="1068.10" y2="645.70" stroke="#5a5a5a" stroke-width="2.0" stroke-linecap="butt"/>
<line x1="1044.10" y1="762.90" x2="1068.10" y2="762.90" stroke="#5a5a5a" stroke-width="2.0" stroke-linecap="butt"/>
<line x1="1135.00" y1="680.00" x2="1135.00" y2="772.90" stroke="#5a5a5a" stroke-width="2.0" stroke-linecap="butt"/>
<line x1="1123.00" y1="680.00" x2="1147.00" y2="680.00" stroke="#5a5a5a" stroke-width="2.0" stroke-linecap="butt"/>
<line x1="1123.00" y1="772.90" x2="1147.00" y2="772.90" stroke="#5a5a5a" stroke-width="2.0" stroke-linecap="butt"/>
<line x1="1262.00" y1="682.20" x2="1262.00" y2="807.30" stroke="#5a5a5a" stroke-width="2.0" stroke-linecap="butt"/>
<line x1="1250.00" y1="682.20" x2="1274.00" y2="682.20" stroke="#5a5a5a" stroke-width="2.0" stroke-linecap="butt"/>
<line x1="1250.00" y1="807.30" x2="1274.00" y2="807.30" stroke="#5a5a5a" stroke-width="2.0" stroke-linecap="butt"/>
<line x1="1338.00" y1="685.90" x2="1338.00" y2="784.50" stroke="#5a5a5a" stroke-width="2.0" stroke-linecap="butt"/>
<line x1="1326.00" y1="685.90" x2="1350.00" y2="685.90" stroke="#5a5a5a" stroke-width="2.0" stroke-linecap="butt"/>
<line x1="1326.00" y1="784.50" x2="1350.00" y2="784.50" stroke="#5a5a5a" stroke-width="2.0" stroke-linecap="butt"/>
<circle cx="1056.1" cy="591.0" r="7.7" fill="none" stroke="#000" stroke-width="3.4"/>
<circle cx="1056.1" cy="625.8" r="7.7" fill="none" stroke="#000" stroke-width="3.4"/>
<circle cx="1045.8" cy="688.4" r="7.7" fill="none" stroke="#000" stroke-width="3.4"/>
<circle cx="1065.6" cy="684.2" r="7.7" fill="none" stroke="#000" stroke-width="3.4"/>
<circle cx="1045.8" cy="722.3" r="7.7" fill="none" stroke="#000" stroke-width="3.4"/>
<circle cx="1065.6" cy="716.1" r="7.7" fill="none" stroke="#000" stroke-width="3.4"/>
<circle cx="1036.7" cy="743.9" r="7.7" fill="none" stroke="#000" stroke-width="3.4"/>
<circle cx="1056.1" cy="745.1" r="7.7" fill="none" stroke="#000" stroke-width="3.4"/>
<circle cx="1073.9" cy="757.5" r="7.7" fill="none" stroke="#000" stroke-width="3.4"/>
<circle cx="1036.7" cy="770.0" r="7.7" fill="none" stroke="#000" stroke-width="3.4"/>
<circle cx="1114.1" cy="680.0" r="8.4" fill="#000"/>
<circle cx="1151.4" cy="671.8" r="8.4" fill="#000"/>
<circle cx="1133.6" cy="689.2" r="8.4" fill="#000"/>
<circle cx="1133.6" cy="713.2" r="8.4" fill="#000"/>
<circle cx="1151.4" cy="741.0" r="8.4" fill="#000"/>
<circle cx="1133.6" cy="749.3" r="8.4" fill="#000"/>
<circle cx="1142.3" cy="777.4" r="8.4" fill="#000"/>
<circle cx="1124.5" cy="792.8" r="8.4" fill="#000"/>
<circle cx="1261.6" cy="634.1" r="7.7" fill="none" stroke="#000" stroke-width="3.4"/>
<circle cx="1261.6" cy="676.8" r="7.7" fill="none" stroke="#000" stroke-width="3.4"/>
<circle cx="1261.6" cy="714.0" r="7.7" fill="none" stroke="#000" stroke-width="3.4"/>
<circle cx="1261.6" cy="737.7" r="7.7" fill="none" stroke="#000" stroke-width="3.4"/>
<circle cx="1242.5" cy="751.3" r="7.7" fill="none" stroke="#000" stroke-width="3.4"/>
<circle cx="1279.8" cy="747.2" r="7.7" fill="none" stroke="#000" stroke-width="3.4"/>
<circle cx="1279.8" cy="763.8" r="7.7" fill="none" stroke="#000" stroke-width="3.4"/>
<circle cx="1261.6" cy="772.0" r="7.7" fill="none" stroke="#000" stroke-width="3.4"/>
<circle cx="1261.6" cy="792.8" r="7.7" fill="none" stroke="#000" stroke-width="3.4"/>
<circle cx="1261.6" cy="863.2" r="7.7" fill="none" stroke="#000" stroke-width="3.4"/>
<circle cx="1337.0" cy="657.3" r="8.4" fill="#000"/>
<circle cx="1320.4" cy="686.3" r="8.4" fill="#000"/>
<circle cx="1337.8" cy="697.5" r="8.4" fill="#000"/>
<circle cx="1337.8" cy="748.0" r="8.4" fill="#000"/>
<circle cx="1320.4" cy="756.7" r="8.4" fill="#000"/>
<circle cx="1354.4" cy="760.9" r="8.4" fill="#000"/>
<circle cx="1337.8" cy="770.0" r="8.4" fill="#000"/>
<circle cx="1337.8" cy="803.9" r="8.4" fill="#000"/>
<path d="M1049.10,573.20 V519.40 H1242.50 V612.60" fill="none" stroke="#000" stroke-width="3.4" stroke-linejoin="miter"/>
<path d="M1054.00,575.30 V557.50 H1123.60 V664.30" fill="none" stroke="#000" stroke-width="3.4" stroke-linejoin="miter"/>
<path d="M1131.50,662.30 V615.90 H1323.30 V660.20" fill="none" stroke="#000" stroke-width="3.4" stroke-linejoin="miter"/>
<path d="M1256.20,612.60 V566.20 H1337.00 V611.70" fill="none" stroke="#000" stroke-width="3.4" stroke-linejoin="miter"/>
<text x="1147.00" y="508.20" font-size="32.3" font-weight="normal" text-anchor="middle" fill="#111111" stroke="#fff" stroke-width="0.45">0.2</text>
<text x="1089.00" y="545.50" font-size="32.3" font-weight="normal" text-anchor="middle" fill="#111111" stroke="#fff" stroke-width="0.45">0.6</text>
<text x="1211.50" y="606.30" font-size="32.3" font-weight="normal" text-anchor="middle" fill="#111111" stroke="#fff" stroke-width="0.45">0.9</text>
<text x="1292.00" y="552.50" font-size="32.3" font-weight="normal" text-anchor="middle" fill="#111111" stroke="#fff" stroke-width="0.45">0.9</text>
<text transform="translate(906.30,716.15) rotate(-90)" font-size="33" font-weight="normal" text-anchor="middle" fill="#000" stroke="#000" stroke-width="0.75" textLength="246" lengthAdjust="spacingAndGlyphs">Delta V<tspan font-size="25" dy="8">t</tspan><tspan dy="-8"> (mL/Kg)</tspan></text>
<text x="-0.50" y="1047.60" font-size="43" font-weight="bold" text-anchor="start" fill="#000" >E</text>
<line x1="172.20" y1="1033.30" x2="172.20" y2="1419.50" stroke="#000" stroke-width="3.4" stroke-linecap="butt"/>
<line x1="156.20" y1="1035.00" x2="172.20" y2="1035.00" stroke="#000" stroke-width="3.4" stroke-linecap="butt"/>
<text x="149.30" y="1045.60" font-size="29.5" font-weight="bold" text-anchor="end" fill="#000" >250</text>
<line x1="156.20" y1="1111.56" x2="172.20" y2="1111.56" stroke="#000" stroke-width="3.4" stroke-linecap="butt"/>
<text x="149.30" y="1122.16" font-size="29.5" font-weight="bold" text-anchor="end" fill="#000" >200</text>
<line x1="156.20" y1="1188.12" x2="172.20" y2="1188.12" stroke="#000" stroke-width="3.4" stroke-linecap="butt"/>
<text x="149.30" y="1198.72" font-size="29.5" font-weight="bold" text-anchor="end" fill="#000" >150</text>
<line x1="156.20" y1="1264.68" x2="172.20" y2="1264.68" stroke="#000" stroke-width="3.4" stroke-linecap="butt"/>
<text x="149.30" y="1275.28" font-size="29.5" font-weight="bold" text-anchor="end" fill="#000" >100</text>
<line x1="156.20" y1="1341.24" x2="172.20" y2="1341.24" stroke="#000" stroke-width="3.4" stroke-linecap="butt"/>
<text x="149.30" y="1351.84" font-size="29.5" font-weight="bold" text-anchor="end" fill="#000" >50</text>
<line x1="156.20" y1="1417.80" x2="172.20" y2="1417.80" stroke="#000" stroke-width="3.4" stroke-linecap="butt"/>
<text x="149.30" y="1428.40" font-size="29.5" font-weight="bold" text-anchor="end" fill="#000" >0</text>
<line x1="156.20" y1="1417.80" x2="779.70" y2="1417.80" stroke="#000" stroke-width="3.4" stroke-linecap="butt"/>
<line x1="303.30" y1="1417.80" x2="303.30" y2="1433.80" stroke="#000" stroke-width="3.4" stroke-linecap="butt"/>
<text x="303.30" y="1464.00" font-size="29.5" font-weight="bold" text-anchor="middle" fill="#000" >W0</text>
<line x1="646.50" y1="1417.80" x2="646.50" y2="1433.80" stroke="#000" stroke-width="3.4" stroke-linecap="butt"/>
<text x="646.50" y="1464.00" font-size="29.5" font-weight="bold" text-anchor="middle" fill="#000" >W4</text>
<rect x="195.00" y="1357.20" width="37.40" height="60.60" fill="#FFBCDF" stroke="#000" stroke-width="3.4"/>
<rect x="255.60" y="1244.10" width="37.20" height="173.70" fill="#F76597" stroke="#000" stroke-width="3.4"/>
<rect x="316.00" y="1362.90" width="37.40" height="54.90" fill="#C7DDF6" stroke="#000" stroke-width="3.4"/>
<rect x="376.30" y="1296.00" width="37.80" height="121.80" fill="#559FFA" stroke="#000" stroke-width="3.4"/>
<rect x="538.60" y="1322.60" width="36.20" height="95.20" fill="#FFBCDF" stroke="#000" stroke-width="3.4"/>
<rect x="598.70" y="1193.50" width="36.80" height="224.30" fill="#F76597" stroke="#000" stroke-width="3.4"/>
<rect x="659.20" y="1319.40" width="36.40" height="98.40" fill="#C7DDF6" stroke="#000" stroke-width="3.4"/>
<rect x="719.90" y="1247.00" width="34.90" height="170.80" fill="#559FFA" stroke="#000" stroke-width="3.4"/>
<circle cx="213.7" cy="1328.8" r="7.7" fill="none" stroke="#000" stroke-width="3.0"/>
<circle cx="213.7" cy="1338.3" r="7.7" fill="none" stroke="#000" stroke-width="3.0"/>
<circle cx="205.8" cy="1349.3" r="7.7" fill="none" stroke="#000" stroke-width="3.0"/>
<circle cx="223.1" cy="1354.0" r="7.7" fill="none" stroke="#000" stroke-width="3.0"/>
<circle cx="201.1" cy="1361.8" r="7.7" fill="none" stroke="#000" stroke-width="3.0"/>
<circle cx="216.8" cy="1366.6" r="7.7" fill="none" stroke="#000" stroke-width="3.0"/>
<circle cx="209.0" cy="1379.1" r="7.7" fill="none" stroke="#000" stroke-width="3.0"/>
<circle cx="220.0" cy="1369.7" r="7.7" fill="none" stroke="#000" stroke-width="3.0"/>
<circle cx="208.0" cy="1358.0" r="7.7" fill="none" stroke="#000" stroke-width="3.0"/>
<circle cx="218.0" cy="1345.0" r="7.7" fill="none" stroke="#000" stroke-width="3.0"/>
<circle cx="286.0" cy="1181.1" r="7.7" fill="none" stroke="#000" stroke-width="3.0"/>
<circle cx="264.0" cy="1190.6" r="7.7" fill="none" stroke="#000" stroke-width="3.0"/>
<circle cx="273.4" cy="1196.8" r="7.7" fill="none" stroke="#000" stroke-width="3.0"/>
<circle cx="264.0" cy="1225.1" r="7.7" fill="none" stroke="#000" stroke-width="3.0"/>
<circle cx="284.4" cy="1223.6" r="7.7" fill="none" stroke="#000" stroke-width="3.0"/>
<circle cx="273.4" cy="1234.6" r="7.7" fill="none" stroke="#000" stroke-width="3.0"/>
<circle cx="273.4" cy="1251.8" r="7.7" fill="none" stroke="#000" stroke-width="3.0"/>
<circle cx="275.0" cy="1300.6" r="7.7" fill="none" stroke="#000" stroke-width="3.0"/>
<circle cx="264.0" cy="1313.1" r="7.7" fill="none" stroke="#000" stroke-width="3.0"/>
<circle cx="286.0" cy="1311.6" r="7.7" fill="none" stroke="#000" stroke-width="3.0"/>
<circle cx="323.7" cy="1339.8" r="8.4" fill="#000"/>
<circle cx="345.7" cy="1336.7" r="8.4" fill="#000"/>
<circle cx="334.7" cy="1349.3" r="8.4" fill="#000"/>
<circle cx="323.7" cy="1372.8" r="8.4" fill="#000"/>
<circle cx="334.7" cy="1371.3" r="8.4" fill="#000"/>
<circle cx="345.7" cy="1372.8" r="8.4" fill="#000"/>
<circle cx="326.8" cy="1379.1" r="8.4" fill="#000"/>
<circle cx="341.0" cy="1379.1" r="8.4" fill="#000"/>
<circle cx="394.4" cy="1212.6" r="8.4" fill="#000"/>
<circle cx="389.7" cy="1267.6" r="8.4" fill="#000"/>
<circle cx="400.7" cy="1269.1" r="8.4" fill="#000"/>
<circle cx="407.0" cy="1300.6" r="8.4" fill="#000"/>
<circle cx="383.4" cy="1313.1" r="8.4" fill="#000"/>
<circle cx="394.4" cy="1325.7" r="8.4" fill="#000"/>
<circle cx="407.0" cy="1327.3" r="8.4" fill="#000"/>
<circle cx="383.4" cy="1336.7" r="8.4" fill="#000"/>
<circle cx="556.4" cy="1242.0" r="7.7" fill="none" stroke="#000" stroke-width="3.0"/>
<circle cx="544.4" cy="1300.9" r="7.7" fill="none" stroke="#000" stroke-width="3.0"/>
<circle cx="568.4" cy="1306.2" r="7.7" fill="none" stroke="#000" stroke-width="3.0"/>
<circle cx="544.4" cy="1319.6" r="7.7" fill="none" stroke="#000" stroke-width="3.0"/>
<circle cx="556.4" cy="1319.6" r="7.7" fill="none" stroke="#000" stroke-width="3.0"/>
<circle cx="568.4" cy="1325.0" r="7.7" fill="none" stroke="#000" stroke-width="3.0"/>
<circle cx="544.4" cy="1347.7" r="7.7" fill="none" stroke="#000" stroke-width="3.0"/>
<circle cx="556.4" cy="1353.0" r="7.7" fill="none" stroke="#000" stroke-width="3.0"/>
<circle cx="568.4" cy="1354.4" r="7.7" fill="none" stroke="#000" stroke-width="3.0"/>
<circle cx="544.4" cy="1362.4" r="7.7" fill="none" stroke="#000" stroke-width="3.0"/>
<circle cx="620.6" cy="1092.3" r="7.7" fill="none" stroke="#000" stroke-width="3.0"/>
<circle cx="612.6" cy="1099.0" r="7.7" fill="none" stroke="#000" stroke-width="3.0"/>
<circle cx="616.6" cy="1121.7" r="7.7" fill="none" stroke="#000" stroke-width="3.0"/>
<circle cx="616.6" cy="1155.1" r="7.7" fill="none" stroke="#000" stroke-width="3.0"/>
<circle cx="616.6" cy="1175.2" r="7.7" fill="none" stroke="#000" stroke-width="3.0"/>
<circle cx="604.5" cy="1239.4" r="7.7" fill="none" stroke="#000" stroke-width="3.0"/>
<circle cx="612.6" cy="1244.7" r="7.7" fill="none" stroke="#000" stroke-width="3.0"/>
<circle cx="604.5" cy="1259.4" r="7.7" fill="none" stroke="#000" stroke-width="3.0"/>
<circle cx="617.9" cy="1255.4" r="7.7" fill="none" stroke="#000" stroke-width="3.0"/>
<circle cx="628.6" cy="1255.4" r="7.7" fill="none" stroke="#000" stroke-width="3.0"/>
<circle cx="666.0" cy="1306.2" r="8.4" fill="#000"/>
<circle cx="683.4" cy="1303.5" r="8.4" fill="#000"/>
<circle cx="692.8" cy="1307.6" r="8.4" fill="#000"/>
<circle cx="676.8" cy="1310.2" r="8.4" fill="#000"/>
<circle cx="675.4" cy="1323.6" r="8.4" fill="#000"/>
<circle cx="687.4" cy="1320.9" r="8.4" fill="#000"/>
<circle cx="678.1" cy="1341.0" r="8.4" fill="#000"/>
<circle cx="670.0" cy="1318.0" r="8.4" fill="#000"/>
<circle cx="738.3" cy="1152.4" r="8.4" fill="#000"/>
<circle cx="726.2" cy="1210.0" r="8.4" fill="#000"/>
<circle cx="750.3" cy="1210.0" r="8.4" fill="#000"/>
<circle cx="726.2" cy="1252.7" r="8.4" fill="#000"/>
<circle cx="750.3" cy="1255.4" r="8.4" fill="#000"/>
<circle cx="726.2" cy="1274.1" r="8.4" fill="#000"/>
<circle cx="750.3" cy="1279.5" r="8.4" fill="#000"/>
<circle cx="738.3" cy="1319.6" r="8.4" fill="#000"/>
<line x1="213.70" y1="1325.70" x2="213.70" y2="1385.00" stroke="#000" stroke-width="2.0" stroke-linecap="butt"/>
<line x1="203.20" y1="1325.70" x2="224.20" y2="1325.70" stroke="#000" stroke-width="2.0" stroke-linecap="butt"/>
<line x1="203.20" y1="1385.00" x2="224.20" y2="1385.00" stroke="#000" stroke-width="2.0" stroke-linecap="butt"/>
<line x1="274.40" y1="1192.10" x2="274.40" y2="1292.70" stroke="#000" stroke-width="2.0" stroke-linecap="butt"/>
<line x1="263.90" y1="1192.10" x2="284.90" y2="1192.10" stroke="#000" stroke-width="2.0" stroke-linecap="butt"/>
<line x1="263.90" y1="1292.70" x2="284.90" y2="1292.70" stroke="#000" stroke-width="2.0" stroke-linecap="butt"/>
<line x1="334.70" y1="1349.30" x2="334.70" y2="1373.00" stroke="#000" stroke-width="2.0" stroke-linecap="butt"/>
<line x1="324.20" y1="1349.30" x2="345.20" y2="1349.30" stroke="#000" stroke-width="2.0" stroke-linecap="butt"/>
<line x1="324.20" y1="1373.00" x2="345.20" y2="1373.00" stroke="#000" stroke-width="2.0" stroke-linecap="butt"/>
<line x1="395.00" y1="1252.80" x2="395.00" y2="1330.40" stroke="#000" stroke-width="2.0" stroke-linecap="butt"/>
<line x1="384.50" y1="1252.80" x2="405.50" y2="1252.80" stroke="#000" stroke-width="2.0" stroke-linecap="butt"/>
<line x1="384.50" y1="1330.40" x2="405.50" y2="1330.40" stroke="#000" stroke-width="2.0" stroke-linecap="butt"/>
<line x1="556.40" y1="1288.00" x2="556.40" y2="1353.00" stroke="#000" stroke-width="2.0" stroke-linecap="butt"/>
<line x1="545.90" y1="1288.00" x2="566.90" y2="1288.00" stroke="#000" stroke-width="2.0" stroke-linecap="butt"/>
<line x1="545.90" y1="1353.00" x2="566.90" y2="1353.00" stroke="#000" stroke-width="2.0" stroke-linecap="butt"/>
<line x1="617.00" y1="1121.70" x2="617.00" y2="1262.00" stroke="#000" stroke-width="2.0" stroke-linecap="butt"/>
<line x1="606.50" y1="1121.70" x2="627.50" y2="1121.70" stroke="#000" stroke-width="2.0" stroke-linecap="butt"/>
<line x1="606.50" y1="1262.00" x2="627.50" y2="1262.00" stroke="#000" stroke-width="2.0" stroke-linecap="butt"/>
<line x1="677.40" y1="1307.00" x2="677.40" y2="1328.00" stroke="#000" stroke-width="2.0" stroke-linecap="butt"/>
<line x1="666.90" y1="1307.00" x2="687.90" y2="1307.00" stroke="#000" stroke-width="2.0" stroke-linecap="butt"/>
<line x1="666.90" y1="1328.00" x2="687.90" y2="1328.00" stroke="#000" stroke-width="2.0" stroke-linecap="butt"/>
<line x1="738.30" y1="1192.60" x2="738.30" y2="1296.30" stroke="#000" stroke-width="2.0" stroke-linecap="butt"/>
<line x1="727.80" y1="1192.60" x2="748.80" y2="1192.60" stroke="#000" stroke-width="2.0" stroke-linecap="butt"/>
<line x1="727.80" y1="1296.30" x2="748.80" y2="1296.30" stroke="#000" stroke-width="2.0" stroke-linecap="butt"/>
<path d="M208.00,1182.70 V1121.40 H273.40 V1184.30" fill="none" stroke="#000" stroke-width="3.4" stroke-linejoin="miter"/>
<path d="M327.50,1188.00 V1121.40 H394.40 V1188.00" fill="none" stroke="#000" stroke-width="3.4" stroke-linejoin="miter"/>
<text x="239.60" y="1102.60" font-size="32.3" font-weight="normal" text-anchor="middle" fill="#111111" stroke="#fff" stroke-width="0.45">0.0001</text>
<text x="360.00" y="1102.60" font-size="32.3" font-weight="normal" text-anchor="middle" fill="#111111" stroke="#fff" stroke-width="0.45">0.01</text>
<path d="M555.60,1078.90 V1056.70 H617.90 V1078.90" fill="none" stroke="#000" stroke-width="3.4" stroke-linejoin="miter"/>
<path d="M672.20,1117.70 V1062.90 H735.60 V1117.70" fill="none" stroke="#000" stroke-width="3.4" stroke-linejoin="miter"/>
<text x="585.50" y="1037.40" font-size="32.3" font-weight="normal" text-anchor="middle" fill="#111111" stroke="#fff" stroke-width="0.45">0.0001</text>
<text x="703.50" y="1042.80" font-size="32.3" font-weight="normal" text-anchor="middle" fill="#111111" stroke="#fff" stroke-width="0.45">0.006</text>
<text transform="translate(70.80,1228.95) rotate(-90)" font-size="33" font-weight="normal" text-anchor="middle" fill="#000" stroke="#000" stroke-width="0.75" textLength="239.5" lengthAdjust="spacingAndGlyphs">V&#775;<tspan font-size="27" dy="8.7" stroke-width="0.3">E</tspan><tspan dy="-8.7" dx="18">(mL/min/Kg)</tspan></text>
<text x="836.00" y="1037.60" font-size="43" font-weight="bold" text-anchor="start" fill="#000" >F</text>
<line x1="999.40" y1="1022.40" x2="999.40" y2="1420.40" stroke="#000" stroke-width="3.4" stroke-linecap="butt"/>
<line x1="984.60" y1="1024.10" x2="999.40" y2="1024.10" stroke="#000" stroke-width="3.4" stroke-linecap="butt"/>
<text x="978.30" y="1034.70" font-size="29.5" font-weight="bold" text-anchor="end" fill="#000" >200</text>
<line x1="984.60" y1="1122.75" x2="999.40" y2="1122.75" stroke="#000" stroke-width="3.4" stroke-linecap="butt"/>
<text x="978.30" y="1133.35" font-size="29.5" font-weight="bold" text-anchor="end" fill="#000" >150</text>
<line x1="984.60" y1="1221.40" x2="999.40" y2="1221.40" stroke="#000" stroke-width="3.4" stroke-linecap="butt"/>
<text x="978.30" y="1232.00" font-size="29.5" font-weight="bold" text-anchor="end" fill="#000" >100</text>
<line x1="984.60" y1="1320.05" x2="999.40" y2="1320.05" stroke="#000" stroke-width="3.4" stroke-linecap="butt"/>
<text x="978.30" y="1330.65" font-size="29.5" font-weight="bold" text-anchor="end" fill="#000" >50</text>
<line x1="984.60" y1="1418.70" x2="999.40" y2="1418.70" stroke="#000" stroke-width="3.4" stroke-linecap="butt"/>
<text x="978.30" y="1429.30" font-size="29.5" font-weight="bold" text-anchor="end" fill="#000" >0</text>
<line x1="984.60" y1="1418.70" x2="1395.80" y2="1418.70" stroke="#000" stroke-width="3.4" stroke-linecap="butt"/>
<line x1="1092.60" y1="1418.70" x2="1092.60" y2="1434.70" stroke="#000" stroke-width="3.4" stroke-linecap="butt"/>
<text x="1092.60" y="1466.40" font-size="29.5" font-weight="bold" text-anchor="middle" fill="#000" >W0</text>
<line x1="1303.40" y1="1418.70" x2="1303.40" y2="1434.70" stroke="#000" stroke-width="3.4" stroke-linecap="butt"/>
<text x="1303.40" y="1466.40" font-size="29.5" font-weight="bold" text-anchor="middle" fill="#000" >W4</text>
<rect x="1030.10" y="1277.50" width="48.30" height="141.20" fill="#fff" stroke="#000" stroke-width="3.4"/>
<rect x="1109.60" y="1336.40" width="48.40" height="82.30" fill="#fff" stroke="#000" stroke-width="3.4"/>
<rect x="1239.30" y="1249.80" width="48.40" height="168.90" fill="#fff" stroke="#000" stroke-width="3.4"/>
<rect x="1318.80" y="1330.60" width="48.40" height="88.10" fill="#fff" stroke="#000" stroke-width="3.4"/>
<line x1="1054.00" y1="1229.00" x2="1054.00" y2="1323.50" stroke="#5a5a5a" stroke-width="2.0" stroke-linecap="butt"/>
<line x1="1040.50" y1="1229.00" x2="1067.50" y2="1229.00" stroke="#5a5a5a" stroke-width="2.0" stroke-linecap="butt"/>
<line x1="1040.50" y1="1323.50" x2="1067.50" y2="1323.50" stroke="#5a5a5a" stroke-width="2.0" stroke-linecap="butt"/>
<line x1="1133.80" y1="1290.30" x2="1133.80" y2="1379.40" stroke="#5a5a5a" stroke-width="2.0" stroke-linecap="butt"/>
<line x1="1120.30" y1="1290.30" x2="1147.30" y2="1290.30" stroke="#5a5a5a" stroke-width="2.0" stroke-linecap="butt"/>
<line x1="1120.30" y1="1379.40" x2="1147.30" y2="1379.40" stroke="#5a5a5a" stroke-width="2.0" stroke-linecap="butt"/>
<line x1="1264.50" y1="1169.40" x2="1264.50" y2="1325.50" stroke="#5a5a5a" stroke-width="2.0" stroke-linecap="butt"/>
<line x1="1251.00" y1="1169.40" x2="1278.00" y2="1169.40" stroke="#5a5a5a" stroke-width="2.0" stroke-linecap="butt"/>
<line x1="1251.00" y1="1325.50" x2="1278.00" y2="1325.50" stroke="#5a5a5a" stroke-width="2.0" stroke-linecap="butt"/>
<line x1="1343.20" y1="1260.10" x2="1343.20" y2="1393.90" stroke="#5a5a5a" stroke-width="2.0" stroke-linecap="butt"/>
<line x1="1329.70" y1="1260.10" x2="1356.70" y2="1260.10" stroke="#5a5a5a" stroke-width="2.0" stroke-linecap="butt"/>
<line x1="1329.70" y1="1393.90" x2="1356.70" y2="1393.90" stroke="#5a5a5a" stroke-width="2.0" stroke-linecap="butt"/>
<circle cx="1054.0" cy="1217.0" r="7.7" fill="none" stroke="#000" stroke-width="3.4"/>
<circle cx="1034.6" cy="1228.2" r="7.7" fill="none" stroke="#000" stroke-width="3.4"/>
<circle cx="1071.9" cy="1238.5" r="7.7" fill="none" stroke="#000" stroke-width="3.4"/>
<circle cx="1054.0" cy="1252.2" r="7.7" fill="none" stroke="#000" stroke-width="3.4"/>
<circle cx="1034.6" cy="1260.5" r="7.7" fill="none" stroke="#000" stroke-width="3.4"/>
<circle cx="1071.9" cy="1265.5" r="7.7" fill="none" stroke="#000" stroke-width="3.4"/>
<circle cx="1054.0" cy="1275.8" r="7.7" fill="none" stroke="#000" stroke-width="3.4"/>
<circle cx="1034.6" cy="1344.2" r="7.7" fill="none" stroke="#000" stroke-width="3.4"/>
<circle cx="1054.0" cy="1335.9" r="7.7" fill="none" stroke="#000" stroke-width="3.4"/>
<circle cx="1071.9" cy="1338.0" r="7.7" fill="none" stroke="#000" stroke-width="3.4"/>
<circle cx="1132.8" cy="1253.1" r="8.4" fill="#000"/>
<circle cx="1132.8" cy="1287.4" r="8.4" fill="#000"/>
<circle cx="1132.8" cy="1315.2" r="8.4" fill="#000"/>
<circle cx="1114.1" cy="1352.5" r="8.4" fill="#000"/>
<circle cx="1126.5" cy="1358.7" r="8.4" fill="#000"/>
<circle cx="1151.4" cy="1364.9" r="8.4" fill="#000"/>
<circle cx="1114.1" cy="1371.9" r="8.4" fill="#000"/>
<circle cx="1139.0" cy="1371.9" r="8.4" fill="#000"/>
<circle cx="1264.5" cy="1124.6" r="7.7" fill="none" stroke="#000" stroke-width="3.4"/>
<circle cx="1244.6" cy="1159.0" r="7.7" fill="none" stroke="#000" stroke-width="3.4"/>
<circle cx="1284.0" cy="1172.3" r="7.7" fill="none" stroke="#000" stroke-width="3.4"/>
<circle cx="1244.6" cy="1234.4" r="7.7" fill="none" stroke="#000" stroke-width="3.4"/>
<circle cx="1284.0" cy="1231.1" r="7.7" fill="none" stroke="#000" stroke-width="3.4"/>
<circle cx="1244.6" cy="1273.8" r="7.7" fill="none" stroke="#000" stroke-width="3.4"/>
<circle cx="1244.6" cy="1291.6" r="7.7" fill="none" stroke="#000" stroke-width="3.4"/>
<circle cx="1284.0" cy="1287.4" r="7.7" fill="none" stroke="#000" stroke-width="3.4"/>
<circle cx="1244.6" cy="1353.7" r="7.7" fill="none" stroke="#000" stroke-width="3.4"/>
<circle cx="1284.0" cy="1349.2" r="7.7" fill="none" stroke="#000" stroke-width="3.4"/>
<circle cx="1344.0" cy="1199.2" r="8.4" fill="#000"/>
<circle cx="1344.0" cy="1275.8" r="8.4" fill="#000"/>
<circle cx="1344.0" cy="1292.4" r="8.4" fill="#000"/>
<circle cx="1325.4" cy="1344.2" r="8.4" fill="#000"/>
<circle cx="1344.0" cy="1351.2" r="8.4" fill="#000"/>
<circle cx="1325.4" cy="1391.8" r="8.4" fill="#000"/>
<circle cx="1344.0" cy="1379.4" r="8.4" fill="#000"/>
<circle cx="1360.6" cy="1385.6" r="8.4" fill="#000"/>
<path d="M1044.90,1193.80 V1073.70 H1250.80 V1105.20" fill="none" stroke="#000" stroke-width="3.4" stroke-linejoin="miter"/>
<path d="M1259.90,1098.50 V1073.70 H1339.90 V1098.50" fill="none" stroke="#000" stroke-width="3.4" stroke-linejoin="miter"/>
<path d="M1055.30,1197.10 V1154.50 H1131.50 V1197.10" fill="none" stroke="#000" stroke-width="3.4" stroke-linejoin="miter"/>
<path d="M1137.30,1195.00 V1154.50 H1342.00 V1193.80" fill="none" stroke="#000" stroke-width="3.4" stroke-linejoin="miter"/>
<text x="1152.00" y="1058.40" font-size="32.3" font-weight="normal" text-anchor="middle" fill="#111111" stroke="#fff" stroke-width="0.45">0.2</text>
<text x="1300.00" y="1053.40" font-size="32.3" font-weight="normal" text-anchor="middle" fill="#111111" stroke="#fff" stroke-width="0.45">0.03</text>
<text x="1091.00" y="1137.90" font-size="32.3" font-weight="normal" text-anchor="middle" fill="#111111" stroke="#fff" stroke-width="0.45">0.09</text>
<text x="1200.00" y="1137.90" font-size="32.3" font-weight="normal" text-anchor="middle" fill="#111111" stroke="#fff" stroke-width="0.45">&gt;0.99</text>
<text transform="translate(901.60,1223.00) rotate(-90)" font-size="33" font-weight="normal" text-anchor="middle" fill="#000" stroke="#000" stroke-width="0.75" textLength="323" lengthAdjust="spacingAndGlyphs">Delta V&#775;<tspan font-size="27" dy="8.7" stroke-width="0.3">E</tspan><tspan dy="-8.7"> (mL/min/Kg)</tspan></text>
<text x="67.00" y="1539.60" font-size="35.1" font-weight="normal" text-anchor="start" fill="#111" stroke="#fff" stroke-width="0.45">For A), C) and E)</text>
<rect x="50" y="1557" width="588" height="231.5" fill="none" stroke="#000" stroke-width="4"/>
<rect x="78" y="1583.4" width="39.8" height="15.8" fill="#FFBCDF" stroke="#000" stroke-width="4"/>
<text x="144.50" y="1600.60" font-size="35.0" font-weight="normal" text-anchor="start" fill="#111111" stroke="#fff" stroke-width="0.45">Sx 21% O2/ 0% CO2 (n=10)</text>
<rect x="78" y="1637.2" width="39.8" height="15.8" fill="#F76597" stroke="#000" stroke-width="4"/>
<text x="144.50" y="1654.60" font-size="35.0" font-weight="normal" text-anchor="start" fill="#111111" stroke="#fff" stroke-width="0.45">Sx 21% O2/ 5% CO2 (n=10)</text>
<rect x="78" y="1691.1" width="39.8" height="15.8" fill="#C7DDF6" stroke="#000" stroke-width="4"/>
<text x="144.50" y="1708.40" font-size="35.0" font-weight="normal" text-anchor="start" fill="#111111" stroke="#fff" stroke-width="0.45">SCGx 21% O2/ 0% CO2 (n=8)</text>
<rect x="78" y="1745.0" width="39.8" height="15.8" fill="#559FFA" stroke="#000" stroke-width="4"/>
<text x="144.50" y="1762.10" font-size="35.0" font-weight="normal" text-anchor="start" fill="#111111" stroke="#fff" stroke-width="0.45">SCGx 21% O2/ 5% CO2 (n=8)</text>
<text x="905.50" y="1539.60" font-size="34.9" font-weight="normal" text-anchor="start" fill="#111" stroke="#fff" stroke-width="0.45">For B), D) and F)</text>
<rect x="890.5" y="1555" width="318" height="136.5" fill="none" stroke="#000" stroke-width="4"/>
<circle cx="927.1" cy="1590.6" r="8.8" fill="none" stroke="#000" stroke-width="4"/>
<circle cx="926.6" cy="1650.3" r="10.5" fill="#000"/>
<text x="977.50" y="1600.60" font-size="38.8" font-weight="normal" text-anchor="start" fill="#111111" stroke="#fff" stroke-width="0.45">Sx (n=10)</text>
<text x="977.50" y="1660.00" font-size="38.8" font-weight="normal" text-anchor="start" fill="#111111" stroke="#fff" stroke-width="0.45">SCGx (n=8)</text>
</svg></body></html>
